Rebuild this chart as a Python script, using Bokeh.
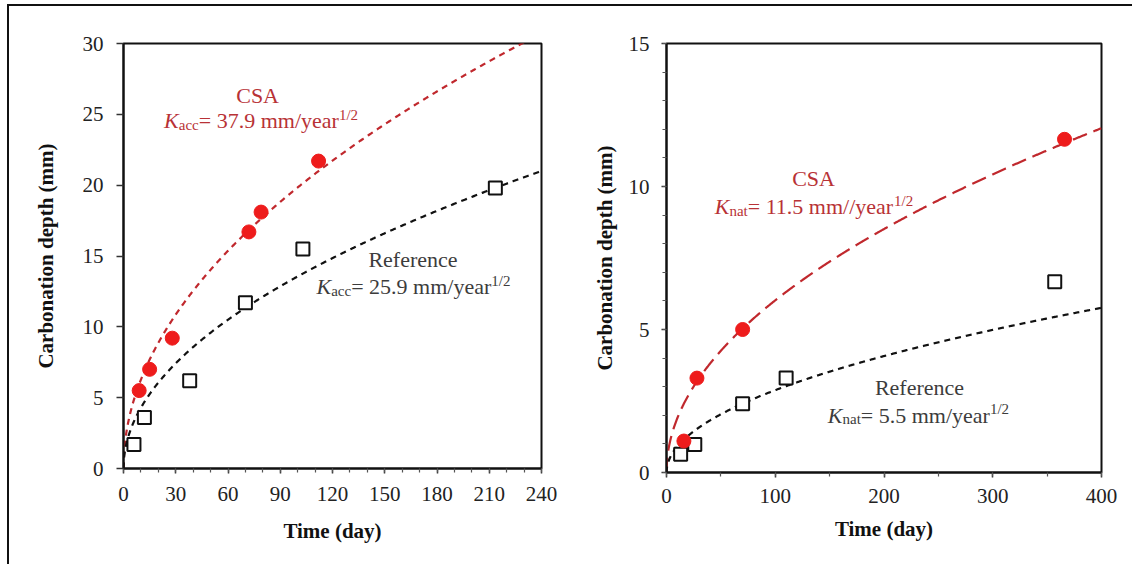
import numpy as np
from bokeh.plotting import figure
from bokeh.models import Label, FixedTicker, Range1d
from bokeh.layouts import row
from bokeh.embed import file_html
from bokeh.resources import INLINE

# ---------------- data ----------------
# Accelerated carbonation (left)
acc_csa_day = [9, 15, 28, 72, 79, 112]
acc_csa_depth = [5.5, 7.0, 9.2, 16.7, 18.1, 21.7]
acc_ref_day = [6, 12, 38, 70, 103, 213.5]
acc_ref_depth = [1.7, 3.6, 6.2, 11.7, 15.5, 19.8]
acc_K_csa = 37.9
acc_K_ref = 25.9
acc_xticks = [0, 30, 60, 90, 120, 150, 180, 210, 240]
acc_yticks = [0, 5, 10, 15, 20, 25, 30]

# Natural carbonation (right)
nat_csa_day = [16, 28, 70, 366]
nat_csa_depth = [1.1, 3.3, 5.0, 11.65]
nat_ref_day = [13, 26, 70, 110, 357]
nat_ref_depth = [0.64, 0.98, 2.4, 3.3, 6.67]
nat_K_csa = 11.5
nat_K_ref = 5.5
nat_xticks = [0, 100, 200, 300, 400]
nat_yticks = [0, 5, 10, 15]

FONT = "Liberation Serif"
RED_PT = "#ee1c1c"
RED_LINE = "#c0282d"
RED_TXT = "#b83236"
GRAY_TXT = "#3c3c3c"
LIFT = 7  # screen px

# Times-compatible advance widths (em)
WID = {' ': .25, '.': .25, '/': .278, '=': .564, 'a': .444, 'c': .444, 'e': .444,
       'm': .778, 'n': .5, 'r': .333, 't': .278, 'y': .5}
for d in "0123456789":
    WID[d] = .5


def tw(s, size, italic=False):
    if italic and s == "K":
        return .667 * size
    return sum(WID.get(ch, .5) for ch in s) * size


def rich(p, x, y, pieces, color):
    # pieces: (text, size, dy, style)
    widths = [tw(t, s, st == "italic") for t, s, dy, st in pieces]
    total = sum(widths)
    off = -total / 2
    for (t, s, dy, st), w in zip(pieces, widths):
        p.add_layout(Label(x=x, y=y, x_offset=off, y_offset=dy + LIFT, text=t,
                           text_font=FONT, text_font_size=f"{s}px",
                           text_font_style=st, text_color=color,
                           text_align="left", text_baseline="alphabetic"))
        off += w


def kline(p, x, y, sub, rest, color):
    rich(p, x, y, [("K", 22, 0, "italic"), (sub, 15, -4, "normal"),
                   (rest, 22, 0, "normal"), ("1/2", 15, 6, "normal")], color)


def simple(p, x, y, text, color):
    p.add_layout(Label(x=x, y=y, y_offset=LIFT, text=text, text_font=FONT, text_font_size="22px",
                       text_color=color, text_align="center", text_baseline="alphabetic"))


def style(p, xticks, xminor, yticks, yminor, xstand, ystand, xls, yls):
    p.outline_line_color = "#111111"
    p.outline_line_width = 2
    p.xgrid.visible = False
    p.ygrid.visible = False
    p.xaxis.ticker = FixedTicker(ticks=xticks, minor_ticks=xminor)
    p.yaxis.ticker = FixedTicker(ticks=yticks, minor_ticks=yminor)
    for ax in (p.xaxis[0], p.yaxis[0]):
        ax.axis_line_width = 2
        ax.axis_line_color = "#111111"
        ax.major_tick_in = 0
        ax.major_tick_out = 5
        ax.minor_tick_in = 0
        ax.minor_tick_out = 4
        ax.major_tick_line_width = 1.5
        ax.minor_tick_line_width = 1.2
        ax.major_tick_line_color = "#333333"
        ax.minor_tick_line_color = "#555555"
        ax.major_label_text_font = FONT
        ax.major_label_text_font_size = "21px"
        ax.major_label_text_color = "#222222"
        ax.axis_label_text_font = FONT
        ax.axis_label_text_font_size = "21px"
        ax.axis_label_text_font_style = "bold"
        ax.axis_label_text_color = "#111111"
    p.xaxis.major_label_standoff = xstand
    p.yaxis.major_label_standoff = ystand
    p.xaxis.axis_label_standoff = xls
    p.yaxis.axis_label_standoff = yls


# ---------------- left plot ----------------
p1 = figure(width=578, height=554, x_range=Range1d(0, 240), y_range=Range1d(0, 30),
            output_backend="svg", toolbar_location=None,
            min_border_left=114, min_border_right=46, min_border_top=37, min_border_bottom=92,
            x_axis_label="Time (day)", y_axis_label="Carbonation depth (mm)")
style(p1, acc_xticks, list(range(0, 241, 10)), acc_yticks, [], 13, 13, 15, 22)
p1.yaxis.major_tick_out = 7

t1 = np.linspace(0, 240, 600)
p1.line(t1, acc_K_csa * np.sqrt(t1 / 365.0), line_color=RED_LINE, line_width=2.2, line_dash="6 5")
p1.line(t1, acc_K_ref * np.sqrt(t1 / 365.0), line_color="#111111", line_width=2.2, line_dash="6 5")
p1.scatter(acc_ref_day, acc_ref_depth, marker="square", size=13, fill_color="white",
           line_color="#111111", line_width=2)
p1.scatter(acc_csa_day, acc_csa_depth, marker="circle", size=14, fill_color=RED_PT,
           line_color=RED_PT)

simple(p1, 77, 25.83, "CSA", RED_TXT)
kline(p1, 79, 24.07, "acc", "= 37.9 mm/year", RED_TXT)
simple(p1, 166.2, 14.26, "Reference", GRAY_TXT)
kline(p1, 166.5, 12.33, "acc", "= 25.9 mm/year", GRAY_TXT)

# ---------------- right plot ----------------
p2 = figure(width=545, height=558, x_range=Range1d(0, 400), y_range=Range1d(0, 15),
            output_backend="svg", toolbar_location=None,
            min_border_left=79, min_border_right=31, min_border_top=37, min_border_bottom=92,
            x_axis_label="Time (day)", y_axis_label="Carbonation depth (mm)")
style(p2, nat_xticks, list(range(0, 401, 50)), nat_yticks, list(range(0, 16)), 11, 12, 11, 9)

t2 = np.linspace(0, 400, 800)
p2.line(t2, nat_K_csa * np.sqrt(t2 / 365.0), line_color=RED_LINE, line_width=2.2, line_dash="15 7")
p2.line(t2, nat_K_ref * np.sqrt(t2 / 365.0), line_color="#111111", line_width=2.2, line_dash="6 5")
p2.scatter(nat_ref_day, nat_ref_depth, marker="square", size=13, fill_color="white",
           line_color="#111111", line_width=2)
p2.scatter(nat_csa_day, nat_csa_depth, marker="circle", size=14, fill_color=RED_PT,
           line_color=RED_PT)

simple(p2, 135.2, 10.03, "CSA", RED_TXT)
kline(p2, 135.6, 9.05, "nat", "= 11.5 mm//year", RED_TXT)
simple(p2, 232.6, 2.72, "Reference", GRAY_TXT)
kline(p2, 231.7, 1.76, "nat", "= 5.5 mm/year", GRAY_TXT)

layout = row(p1, p2, styles={"border-top": "2px solid #111111", "border-left": "2px solid #111111",
                             "margin-left": "7px", "margin-top": "4px"})

open("out.html", "w").write(file_html(layout, INLINE))
